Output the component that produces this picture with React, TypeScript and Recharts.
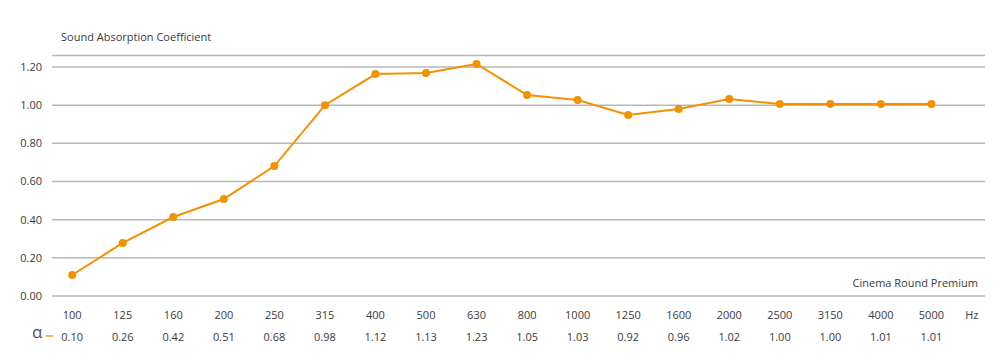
import React from "react";
import { LineChart, Line, XAxis, YAxis, CartesianGrid } from "recharts";

const frequencies = ["100", "125", "160", "200", "250", "315", "400", "500", "630", "800", "1000", "1250", "1600", "2000", "2500", "3150", "4000", "5000"];
const plottedValues = [0.11, 0.278, 0.414, 0.508, 0.681, 1.0, 1.163, 1.168, 1.216, 1.053, 1.027, 0.949, 0.98, 1.032, 1.006, 1.006, 1.006, 1.006];
const alphaLabels = ["0.10", "0.26", "0.42", "0.51", "0.68", "0.98", "1.12", "1.13", "1.23", "1.05", "1.03", "0.92", "0.96", "1.02", "1.00", "1.00", "1.01", "1.01"];
const yTicks = [0, 0.2, 0.4, 0.6, 0.8, 1.0, 1.2];
const unitLabel = "Hz";
const seriesName = "Cinema Round Premium";
const yTitle = "Sound Absorption Coefficient";

const HZ_POS = 17.8;

const data = frequencies.map((f, i) => ({ i, freq: f, value: plottedValues[i], alpha: alphaLabels[i] }));
const xTicks = [...frequencies.map((_, i) => i), HZ_POS];

const FONT = "'Open Sans', 'Noto Sans', sans-serif";
const ORANGE = "#f39200";
const TEXT = "#3a3a3a";

const XTick = (props: any) => {
  const { x, y, payload } = props;
  const v = payload.value;
  if (v === HZ_POS) {
    return (
      <text x={x} y={y + 21} textAnchor="middle" fontSize={11} fill={TEXT} fontFamily={FONT}>
        {unitLabel}
      </text>
    );
  }
  const idx = Math.round(v);
  return (
    <g>
      <text x={x} y={y + 21} textAnchor="middle" fontSize={11} fill={TEXT} fontFamily={FONT}>
        {frequencies[idx]}
      </text>
      <text x={x} y={y + 43} textAnchor="middle" fontSize={11} fill={TEXT} fontFamily={FONT}>
        {alphaLabels[idx]}
      </text>
    </g>
  );
};

export default function App() {
  return (
    <div style={{ position: "absolute", left: 0, top: 0, width: 1000, height: 363, background: "#fff", fontFamily: FONT }}>
      <LineChart width={1000} height={363} data={data} margin={{ top: 55.55, right: 15, left: 0, bottom: 0 }}>
        <CartesianGrid horizontal={true} vertical={false} stroke="#b8b8b8" strokeWidth={1.5} />
        <XAxis
          dataKey="i"
          type="number"
          domain={[-0.4, 18.06]}
          ticks={xTicks}
          axisLine={false}
          tickLine={false}
          tickSize={0}
          height={67}
          interval={0}
          tick={<XTick />}
        />
        <YAxis
          type="number"
          domain={[0, 1.26]}
          allowDataOverflow={true}
          ticks={yTicks}
          width={52}
          axisLine={false}
          tickLine={false}
          tickSize={0}
          tickMargin={10}
          tickFormatter={(v: number) => v.toFixed(2)}
          tick={{ fontSize: 11, fill: TEXT, fontFamily: FONT }}
        />
        <Line
          type="linear"
          dataKey="value"
          stroke={ORANGE}
          strokeWidth={2}
          dot={{ r: 4, fill: ORANGE, stroke: ORANGE, strokeWidth: 0 }}
          activeDot={false}
          isAnimationActive={false}
        />
      </LineChart>
      <div style={{ position: "absolute", left: 61, top: 29, fontSize: 11, color: TEXT, whiteSpace: "nowrap" }}>{yTitle}</div>
      <div style={{ position: "absolute", right: 22, top: 275, fontSize: 11, color: TEXT, whiteSpace: "nowrap" }}>{seriesName}</div>
      <div style={{ position: "absolute", left: 32, top: 322, fontSize: 17, color: "#555", lineHeight: "20px" }}>α</div>
      <div style={{ position: "absolute", left: 46, top: 335, width: 7, height: 2, background: "#f7b55a" }} />
    </div>
  );
}
